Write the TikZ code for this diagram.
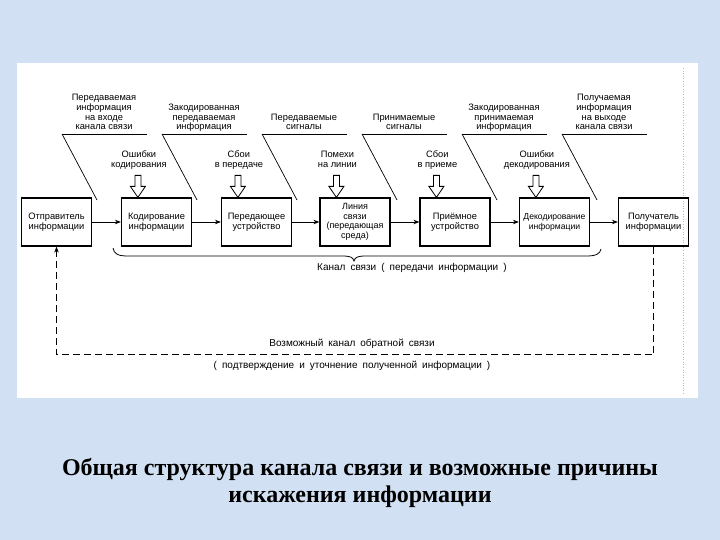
\documentclass[tikz,border=0pt]{standalone}
\usepackage{fontspec}
\setmainfont{Liberation Sans}
\newfontfamily\capfont{Liberation Serif}
\usetikzlibrary{calc,arrows.meta}
\definecolor{bgblue}{RGB}{209,224,242}
\newcommand\wsA{\fontsize{10}{11}\selectfont\spaceskip=5pt plus 1pt\relax}
\begin{document}
\begin{tikzpicture}[x=1pt,y=-1pt,
  box/.style={draw, line width=1.2pt, minimum width=70, minimum height=48, inner sep=1pt, align=center, font=\fontsize{9.3}{10}\selectfont},
  lbl/.style={align=center, inner sep=0pt, text depth=0pt, anchor=south, font=\fontsize{9.3}{9.6}\selectfont},
  thinln/.style={line width=0.7pt},
  flow/.style={line width=0.8pt, -{Stealth[length=6pt,width=4.5pt]}},
  blk/.style={line width=0.8pt, fill=white},
  fbtext/.style={inner sep=1pt, font=\wsA},
]
\useasboundingbox (0,0) rectangle (720,540);
\fill[bgblue] (0,0) rectangle (720,540);
\fill[white] (17,63) rectangle (698,398);
\draw[gray!55, dotted, line width=0.6pt] (683,68) -- (683,394);

% boxes
\node[box] (b1) at (56.5,222) {Отправитель\\информации};
\node[box] (b2) at (156.5,222) {Кодирование\\информации};
\node[box] (b3) at (256.5,222) {Передающее\\устройство};
\node[box, font=\fontsize{9}{9.5}\selectfont] (b4) at (355,222) {Линия\\связи\\(передающая\\среда)};
\node[box] (b5) at (455,222) {Приёмное\\устройство};
\node[box, font=\fontsize{8.6}{10}\selectfont] (b6) at (554.5,222) {Декодирование\\информации};
\node[box] (b7) at (653.5,222) {Получатель\\информации};

\draw[flow] (b1) -- (b2);
\draw[flow] (b2) -- (b3);
\draw[flow] (b3) -- (b4);
\draw[flow] (b4) -- (b5);
\draw[flow] (b5) -- (b6);
\draw[flow] (b6) -- (b7);

% top labels with lines
\foreach \i/\xl/\txt in {1/62/{Передаваемая\\информация\\на входе\\канала связи},
                         2/162/{Закодированная\\передаваемая\\информация},
                         3/262/{Передаваемые\\сигналы},
                         4/362/{Принимаемые\\сигналы},
                         5/462/{Закодированная\\принимаемая\\информация},
                         6/562/{Получаемая\\информация\\на выходе\\канала связи}}{
  \coordinate (h\i) at (\xl,134);
  \node[lbl] (t\i) at (\xl+42,130) {\txt};
  \draw[thinln] (h\i) -- ++(85,0);
  \draw[thinln] (h\i) -- ++(35,66);
}

% error labels with hollow block arrows
\foreach \i/\b/\txt in {1/b2/{Ошибки\\кодирования},
                        2/b3/{Сбои\\в передаче},
                        3/b4/{Помехи\\на линии},
                        4/b5/{Сбои\\в приеме},
                        5/b6/{Ошибки\\декодирования}}{
  \coordinate (a\i) at ([xshift=17pt]\b.north west);
  \node[lbl] (e\i) at ($(a\i)+(1,-30)$) {\txt};
  \draw[blk] (a\i) -- ++(-7.5,-11) -- ++(4.5,0) -- ++(0,-11) -- ++(6,0) -- ++(0,11) -- ++(4.5,0) -- cycle;
}

% brace
\draw[line width=0.8pt] (113,248) .. controls (114,254) and (118,256) .. (128,256)
  -- (342,256) .. controls (350,256) and (353,257) .. (354,261)
  .. controls (355,257) and (358,256) .. (366,256)
  -- (586,256) .. controls (596,256) and (600,254) .. (601,249);
\node[fbtext, anchor=west] (ch) at (316,268) {Канал связи ( передачи информации )};

% feedback loop
\draw[line width=0.8pt, dash pattern=on 7pt off 4pt, -{Stealth[length=6pt,width=4.5pt]}]
  (b7.south) -- ++(0,108) -| (b1.south);
\node[fbtext] (fb1) at (352,344) {Возможный канал обратной связи};
\node[fbtext] (fb2) at (352,366) {( подтверждение и уточнение полученной информации )};

% caption
\node[font=\capfont\bfseries\fontsize{24}{27}\selectfont, align=center, inner sep=0pt] (cap) at (360,483)
  {Общая структура канала связи и возможные причины\\искажения информации};
\end{tikzpicture}
\end{document}
